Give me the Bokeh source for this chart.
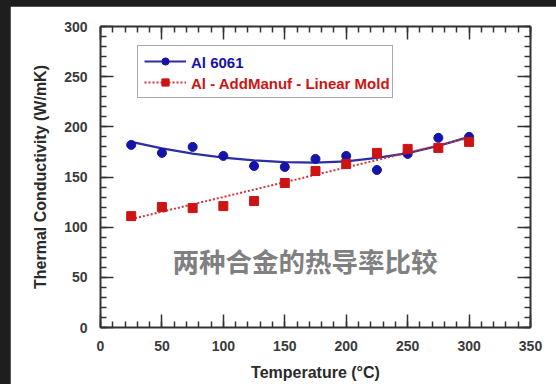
from bokeh.plotting import figure
from bokeh.models import (Legend, LegendItem, LinearAxis, SingleIntervalTicker,
                          Range1d, Label, CustomLabelingPolicy)
from bokeh.embed import file_html
from bokeh.resources import INLINE

# ---- data ----
temperature = [25, 50, 75, 100, 125, 150, 175, 200, 225, 250, 275, 300]
al6061 = [182, 174, 180, 171, 161, 160, 168, 171, 157, 173, 189, 190]
addmanuf = [111, 120, 119, 121, 126, 144, 156, 163, 174, 178, 179, 185]
al6061_fit = [185, 178.5, 173.3, 169.3, 166.5, 164.8, 164.3, 165.5, 169, 173.8, 181, 190]
addmanuf_fit_x = [25, 300]
addmanuf_fit = [108, 189]
x_ticks_interval = 50
y_ticks_interval = 50
label_blue = "Al 6061"
label_red = "Al - AddManuf - Linear Mold"

BLUE_LINE = "#2e2ea0"
BLUE_PT = "#1414a8"
RED_LINE = "#d23434"
RED_PT = "#cc1414"
AXIS = "#333333"
FONT = "Liberation Sans"

p = figure(width=546, height=378, output_backend="svg", toolbar_location=None,
           x_range=Range1d(0, 350), y_range=Range1d(0, 300),
           min_border_left=90, min_border_right=25, min_border_top=20,
           min_border_bottom=57,
           background_fill_color="white", border_fill_color="white")
p.grid.visible = False
p.outline_line_color = None

def style_axis(ax, labels=True):
    ax.axis_line_color = AXIS
    ax.axis_line_width = 2
    ax.major_tick_in = 13
    ax.major_tick_out = 0
    ax.minor_tick_in = 6
    ax.minor_tick_out = 0
    ax.major_tick_line_color = AXIS
    ax.minor_tick_line_color = AXIS
    ax.major_tick_line_width = 1.5
    ax.minor_tick_line_width = 1.5
    ax.major_label_text_font = FONT
    ax.major_label_text_font_style = "bold"
    ax.major_label_text_font_size = "14px"
    ax.major_label_text_color = "#3a3a3a"
    ax.axis_label_text_font = FONT
    ax.axis_label_text_font_style = "bold"
    ax.axis_label_text_font_size = "16px"
    ax.axis_label_text_color = "#2a2a2a"
    if not labels:
        ax.major_label_policy = CustomLabelingPolicy(code="return new Set()")
        ax.major_label_standoff = 0

xaxis = p.xaxis[0]
yaxis = p.yaxis[0]
xaxis.ticker = SingleIntervalTicker(interval=x_ticks_interval, num_minor_ticks=5)
yaxis.ticker = SingleIntervalTicker(interval=y_ticks_interval, num_minor_ticks=5)
style_axis(xaxis)
style_axis(yaxis)
xaxis.axis_label = "Temperature (°C)"
yaxis.axis_label = "Thermal Conductivity (W/mK)"
xaxis.major_label_standoff = 13
yaxis.major_label_standoff = 13
xaxis.axis_label_standoff = 10
yaxis.axis_label_standoff = 12

top = LinearAxis(ticker=SingleIntervalTicker(interval=x_ticks_interval, num_minor_ticks=5))
right = LinearAxis(ticker=SingleIntervalTicker(interval=y_ticks_interval, num_minor_ticks=5))
style_axis(top, labels=False)
style_axis(right, labels=False)
p.add_layout(top, "above")
p.add_layout(right, "right")

r_fit_blue = p.line(temperature, al6061_fit, line_color=BLUE_LINE, line_width=2.2)
r_pts_blue = p.scatter(temperature, al6061, marker="circle", size=9,
                       fill_color=BLUE_PT, line_color=BLUE_PT)
r_fit_red = p.line(addmanuf_fit_x, addmanuf_fit, line_color=RED_LINE,
                   line_width=2, line_dash="2 2")
r_pts_red = p.scatter(temperature, addmanuf, marker="square", size=9,
                      fill_color=RED_PT, line_color=RED_PT)

# legend: box + glyphs (labels blank, width reserved), then coloured text-only legends
PAD, ROW_H, SPACING = 6, 18, 3
common = dict(margin=0, padding=PAD, spacing=SPACING, glyph_width=42,
              glyph_height=ROW_H, label_height=ROW_H, label_standoff=6,
              label_text_font=FONT, label_text_font_size="15px",
              label_text_font_style="bold")
BOX_X, BOX_Y = 37, 229

legend_box = Legend(items=[LegendItem(label=" ", renderers=[r_fit_blue, r_pts_blue]),
                           LegendItem(label=" ", renderers=[r_fit_red, r_pts_red])],
                    location=(BOX_X, BOX_Y), label_width=194,
                    label_text_color="white", border_line_color="#555555",
                    border_line_width=1.5, background_fill_color="white",
                    background_fill_alpha=1, **common)
# transparent border keeps the same padding as the boxed legend
legend_blue = Legend(items=[LegendItem(label=label_blue, renderers=[])],
                     location=(BOX_X, BOX_Y + ROW_H + SPACING),
                     label_text_color=BLUE_PT, border_line_color="white",
                     border_line_alpha=0, background_fill_alpha=0, **common)
legend_red = Legend(items=[LegendItem(label=label_red, renderers=[])],
                    location=(BOX_X, BOX_Y),
                    label_text_color=RED_PT, border_line_color="white",
                    border_line_alpha=0, background_fill_alpha=0, **common)
p.add_layout(legend_box)
p.add_layout(legend_blue)
p.add_layout(legend_red)

p.add_layout(Label(x=166.5, y=67, text="两种合金的热导率比较",
                   text_font="Noto Sans CJK SC", text_font_style="bold",
                   text_font_size="26.5px", text_color="#808080",
                   text_align="center", text_baseline="middle"))

html = file_html(p, INLINE, title="Thermal Conductivity")
html = html.replace(
    "</head>",
    "<style>html, body { background-color: #1e1e1e !important; }"
    " body { padding: 6px 0 0 10px !important; }</style></head>", 1)
open("out.html", "w").write(html)
